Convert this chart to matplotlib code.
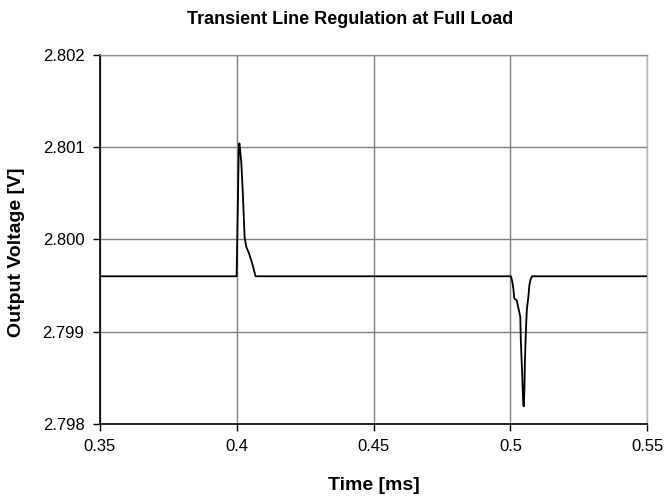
import numpy as np
import matplotlib.pyplot as plt

plt.rcParams['font.family'] = ['Liberation Sans', 'DejaVu Sans']

# time [ms] and output voltage [V]
time_ms = [0.35, 0.4000, 0.4008, 0.4010, 0.4011, 0.4017, 0.4023, 0.4029,
           0.4035, 0.4045, 0.4057, 0.4069, 0.5002, 0.5007, 0.5011, 0.5014,
           0.5023, 0.5031, 0.5036, 0.5038, 0.5043, 0.5045, 0.5047, 0.5049,
           0.5051, 0.5053, 0.5057, 0.5060, 0.5066, 0.5069, 0.5073, 0.5079,
           0.55]
voltage = [2.79960, 2.79960, 2.80100, 2.80104, 2.80102, 2.80084, 2.80048,
           2.80003, 2.79992, 2.79985, 2.79974, 2.79960, 2.79960, 2.79954,
           2.79946, 2.79936, 2.79934, 2.79923, 2.79916, 2.79890, 2.79854,
           2.79836, 2.79820, 2.79819, 2.79836, 2.79869, 2.79905, 2.79924,
           2.79939, 2.79950, 2.79956, 2.79960, 2.79960]

x_ticks = [0.35, 0.4, 0.45, 0.5, 0.55]
x_labels = ['0.35', '0.4', '0.45', '0.5', '0.55']
y_ticks = [2.798, 2.799, 2.800, 2.801, 2.802]


def main():
    fig = plt.figure(figsize=(6.67, 4.99), dpi=100)
    ax = fig.add_axes([0.1495, 0.1503, 0.8210, 0.7401])

    ax.plot(time_ms, voltage, color='black', linewidth=1.3, zorder=3)

    ax.set_xlim(0.35, 0.55)
    ax.set_ylim(2.798, 2.802)
    ax.set_xticks(x_ticks)
    ax.set_xticklabels(x_labels)
    ax.set_yticks(y_ticks)
    ax.set_yticklabels(['%.3f' % v for v in y_ticks])

    ax.grid(True, color='#7f7f7f', linewidth=1.0)
    ax.set_axisbelow(True)

    ax.spines['top'].set_color('#8c8c8c')
    ax.spines['right'].set_color('#b4b4b4')
    for side in ['top', 'right']:
        ax.spines[side].set_linewidth(1.0)
    for side in ['left', 'bottom']:
        ax.spines[side].set_color('black')
        ax.spines[side].set_linewidth(1.2)

    ax.tick_params(direction='out', length=5, width=1.0, labelsize=12,
                   colors='black', pad=6)

    fig.text(350 / 667, 1 - 19 / 499, 'Transient Line Regulation at Full Load',
             fontsize=13, fontweight='bold', ha='center', va='center')
    fig.text(374 / 667, 1 - 485 / 499, 'Time [ms]', fontsize=14,
             fontweight='bold', ha='center', va='center')
    fig.text(17 / 667, 1 - 252 / 499, 'Output Voltage [V]', fontsize=14,
             fontweight='bold', ha='center', va='center', rotation=90)

    fig.savefig('out.png', dpi=100)


if __name__ == '__main__':
    main()
